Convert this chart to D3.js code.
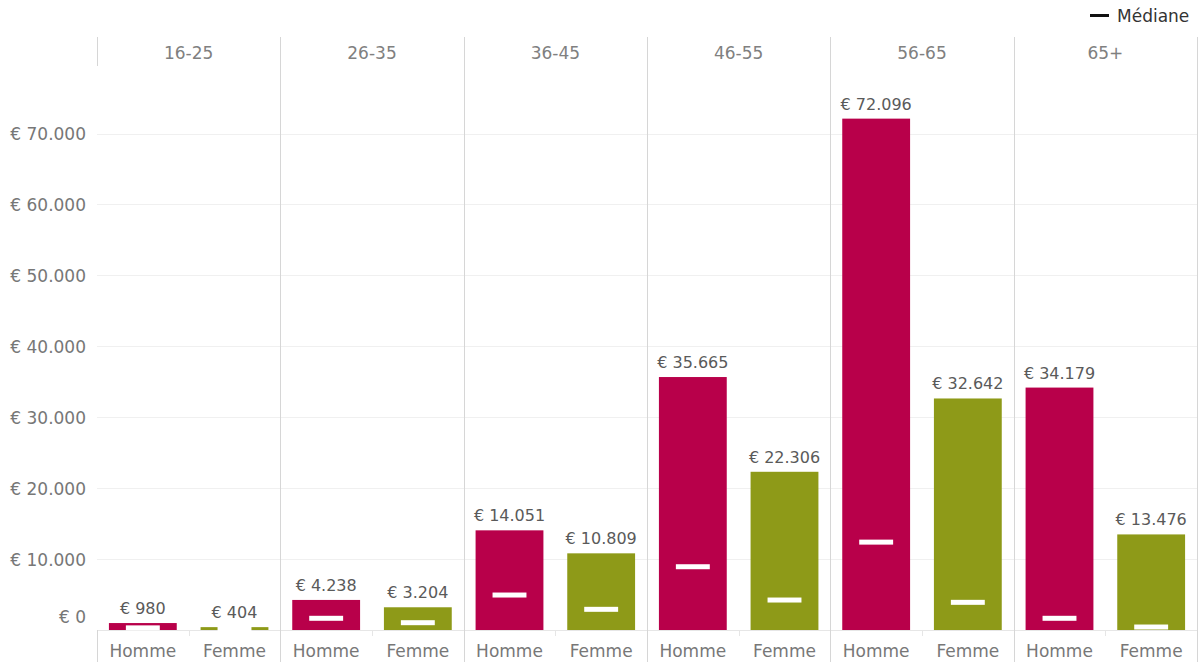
<!DOCTYPE html>
<html>
<head>
<meta charset="utf-8">
<script src="https://cdn.jsdelivr.net/npm/d3@7"></script>
<style>
  html, body { margin: 0; padding: 0; background: #fff; }
  svg { display: block; font-family: "DejaVu Sans", sans-serif; }
</style>
</head>
<body>
<svg id="chart" width="1202" height="662"></svg>
<script>
// ---- data ----
const ageGroups = ["16-25", "26-35", "36-45", "46-55", "56-65", "65+"];
const genders = ["Homme", "Femme"];
const hommeValues = [980, 4238, 14051, 35665, 72096, 34179];
const femmeValues = [404, 3204, 10809, 22306, 32642, 13476];
const hommeMedians = [300, 1650, 4930, 8920, 12390, 1650];
const femmeMedians = [200, 1030, 2915, 4225, 3900, 420];
const yTicks = [0, 10000, 20000, 30000, 40000, 50000, 60000, 70000];
const legendLabel = "Médiane";

const colors = { Homme: "#b8004a", Femme: "#8e9a18" };

const rows = [];
ageGroups.forEach((a, i) => {
  rows.push({ age: a, gender: "Homme", value: hommeValues[i], median: hommeMedians[i] });
  rows.push({ age: a, gender: "Femme", value: femmeValues[i], median: femmeMedians[i] });
});

const fmt = v => "€ " + d3.format(",")(v).replace(/,/g, ".");

// ---- layout ----
const plotLeft = 97, plotRight = 1197, plotTop = 37, plotBottom = 662;
const headerBottom = 66, baseY = 630;

const svg = d3.select("#chart");

const x0 = d3.scaleBand().domain(ageGroups).range([plotLeft, plotRight]);
const x1 = d3.scaleBand().domain(genders).range([0, x0.bandwidth()])
  .paddingInner(0.26).paddingOuter(0.13);
const y = d3.scaleLinear().domain([0, 70000]).range([baseY, 133.5]);

// gridlines
svg.append("g").selectAll("line").data(yTicks.filter(t => t > 0)).join("line")
  .attr("x1", plotLeft).attr("x2", plotRight)
  .attr("y1", d => Math.round(y(d)) + 0.5).attr("y2", d => Math.round(y(d)) + 0.5)
  .attr("stroke", "#f0f0f0").attr("stroke-width", 1);

// baseline
svg.append("line").attr("x1", plotLeft).attr("x2", plotRight)
  .attr("y1", baseY + 0.5).attr("y2", baseY + 0.5)
  .attr("stroke", "#e6e6e6");

// y axis
const yAxis = svg.append("g").attr("transform", `translate(${plotLeft - 11},0)`)
  .call(d3.axisLeft(y).tickValues(yTicks).tickFormat(fmt).tickSize(0).tickPadding(0));
yAxis.select(".domain").remove();
yAxis.selectAll("text")
  .attr("fill", "#777").style("font-size", "17px")
  .style("font-family", "DejaVu Sans, sans-serif")
  .attr("dy", d => d === 0 ? "-0.45em" : "0.35em");

// panel separators
svg.append("g").selectAll("line").data(ageGroups.slice(1)).join("line")
  .attr("x1", d => Math.round(x0(d)) + 0.5).attr("x2", d => Math.round(x0(d)) + 0.5)
  .attr("y1", plotTop).attr("y2", plotBottom)
  .attr("stroke", "#d6d6d6");
// left edge: header and bottom only
[[plotTop, headerBottom], [baseY, plotBottom]].forEach(([a, b]) => {
  svg.append("line").attr("x1", plotLeft + 0.5).attr("x2", plotLeft + 0.5)
    .attr("y1", a).attr("y2", b).attr("stroke", "#d6d6d6");
});
// right edge
svg.append("line").attr("x1", plotRight + 0.5).attr("x2", plotRight + 0.5)
  .attr("y1", plotTop).attr("y2", plotBottom).attr("stroke", "#d6d6d6");

// small center ticks below baseline
svg.append("g").selectAll("line").data(ageGroups).join("line")
  .attr("x1", d => Math.round(x0(d) + x0.bandwidth() / 2) + 0.5)
  .attr("x2", d => Math.round(x0(d) + x0.bandwidth() / 2) + 0.5)
  .attr("y1", baseY).attr("y2", baseY + 6)
  .attr("stroke", "#e6e6e6");

// header labels
svg.append("g").selectAll("text").data(ageGroups).join("text")
  .attr("x", d => x0(d) + x0.bandwidth() / 2)
  .attr("y", 59)
  .attr("text-anchor", "middle")
  .attr("fill", "#808080").style("font-size", "17px")
  .text(d => d);

// bars
const bars = svg.append("g");
bars.selectAll("rect.bar").data(rows).join("rect").attr("class", "bar")
  .attr("x", d => x0(d.age) + x1(d.gender))
  .attr("width", x1.bandwidth())
  .attr("y", d => y(d.value))
  .attr("height", d => baseY - y(d.value))
  .attr("fill", d => colors[d.gender]);

// median markers
const mw = x1.bandwidth() * 0.5;
bars.selectAll("rect.med").data(rows).join("rect").attr("class", "med")
  .attr("x", d => x0(d.age) + x1(d.gender) + (x1.bandwidth() - mw) / 2)
  .attr("width", mw)
  .attr("y", d => y(d.median) - 2.5)
  .attr("height", 5)
  .attr("fill", "#ffffff");

// value labels
svg.append("g").selectAll("text").data(rows).join("text")
  .attr("x", d => x0(d.age) + x1(d.gender) + x1.bandwidth() / 2)
  .attr("y", d => y(d.value) - 9)
  .attr("text-anchor", "middle")
  .attr("fill", "#5a5a5a").style("font-size", "16px")
  .text(d => fmt(d.value));

// gender labels
svg.append("g").selectAll("text").data(rows).join("text")
  .attr("x", d => x0(d.age) + x1(d.gender) + x1.bandwidth() / 2)
  .attr("y", 657)
  .attr("text-anchor", "middle")
  .attr("fill", "#777").style("font-size", "17px")
  .text(d => d.gender);

// legend
const lg = svg.append("g");
lg.append("line").attr("x1", 1090).attr("x2", 1109).attr("y1", 15.5).attr("y2", 15.5)
  .attr("stroke", "#111").attr("stroke-width", 3);
lg.append("text").attr("x", 1117).attr("y", 21.5)
  .attr("fill", "#333").style("font-size", "17px").text(legendLabel);
</script>
</body>
</html>
